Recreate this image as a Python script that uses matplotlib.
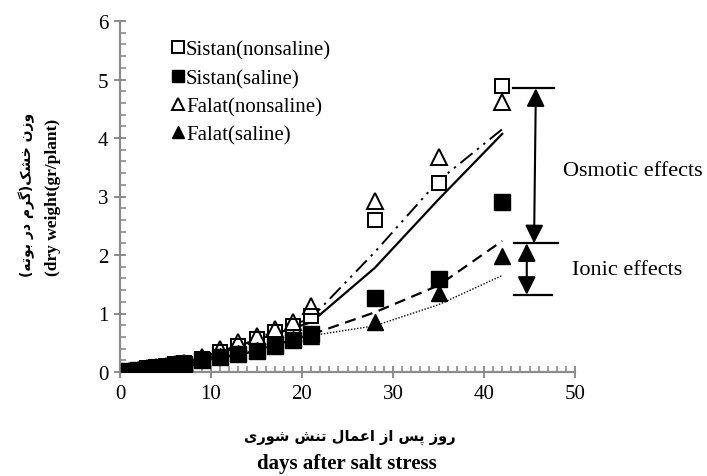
import numpy as np
import matplotlib
matplotlib.use('Agg')
import matplotlib.pyplot as plt
from matplotlib.ticker import MultipleLocator

# datos medidos
days = [1, 2, 3, 4, 5, 6, 7, 9, 11, 13, 15, 17, 19, 21, 28, 35, 42]
sistan_ns = [0.02, 0.04, 0.06, 0.08, 0.10, 0.13, 0.15, 0.22, 0.34, 0.45, 0.56, 0.69, 0.79, 0.96, 2.60, 3.23, 4.89]
sistan_s = [0.01, 0.03, 0.05, 0.07, 0.09, 0.11, 0.14, 0.21, 0.25, 0.31, 0.36, 0.45, 0.54, 0.65, 1.26, 1.59, 2.91]
falat_ns = [0.02, 0.04, 0.06, 0.09, 0.11, 0.13, 0.16, 0.25, 0.39, 0.51, 0.62, 0.73, 0.85, 1.13, 2.92, 3.67, 4.61]
falat_s = [0.01, 0.03, 0.05, 0.07, 0.09, 0.11, 0.13, 0.23, 0.28, 0.33, 0.38, 0.47, 0.56, 0.62, 0.85, 1.35, 1.98]

# curvas ajustadas
fit_days = [0, 7, 14, 21, 28, 35, 42]
fit_sistan_ns = [0.0, 0.15, 0.50, 0.85, 1.78, 2.95, 4.07]
fit_falat_ns = [0.0, 0.16, 0.52, 0.92, 2.05, 3.27, 4.15]
fit_sistan_s = [0.0, 0.14, 0.33, 0.64, 1.02, 1.48, 2.24]
fit_falat_s = [0.0, 0.13, 0.32, 0.62, 0.79, 1.15, 1.65]

# efectos (corchetes)
osm_top = 4.85
ion_top = 2.20
ion_bot = 1.32

# textos persas en formas de presentacion, orden visual
fa_x = ('\uFBFC\uFEAD\uFEEE\uFEB7' + ' ' + '\uFEB6\uFEE8\uFE97' + ' ' +
        '\uFEDD\uFE8E\uFEE4\uFECB\uFE8D' + ' ' + '\uFEAF\uFE8D' + ' ' +
        '\uFEB2\uFB58' + ' ' + '\uFEAF\uFEED\uFEAD')
fa_y = ('(' + '\uFEEA\uFE97\uFEEE\uFE91' + ' ' + '\uFEAD\uFEA9' + ' ' +
        '\uFEE1\uFEAE\uFB94' + ')' + '\uFB8F\uFEB8\uFEA7' + ' ' + '\uFEE5\uFEAF\uFEED')

plt.rcParams['font.family'] = ['Liberation Serif', 'DejaVu Sans']
gris = '#8c8c8c'

fig = plt.figure(figsize=(7.07, 4.77), dpi=100)
ax = fig.add_axes([120/707, 1-373/477, 455/707, 351/477])

ax.plot(fit_days, fit_sistan_ns, color='black', lw=1.6, ls='-', zorder=2)
ax.plot(fit_days, fit_falat_ns, color='black', lw=1.4, ls=(0, (8, 3, 1.2, 3, 1.2, 3)), zorder=2)
ax.plot(fit_days, fit_sistan_s, color='black', lw=1.6, ls=(0, (5, 3)), zorder=2)
ax.plot(fit_days, fit_falat_s, color='black', lw=1.0, ls=(0, (1, 1.2)), zorder=2)

ax.plot(days, sistan_ns, 's', ms=10, mfc='white', mec='black', mew=1.4, ls='none',
        label='Sistan(nonsaline)', zorder=3)
ax.plot(days, falat_ns, '^', ms=11, mfc='none', mec='black', mew=1.4, ls='none',
        label='Falat(nonsaline)', zorder=4)
ax.plot(days, falat_s, '^', ms=11, mfc='black', mec='black', ls='none',
        label='Falat(saline)', zorder=4)
ax.plot(days, sistan_s, 's', ms=11, mfc='black', mec='black', ls='none',
        label='Sistan(saline)', zorder=5)

# corchetes y flechas
ax.plot([43.2, 47.7], [osm_top, osm_top], color='black', lw=1.6, clip_on=False)
ax.plot([43.3, 48.1], [ion_top, ion_top], color='black', lw=1.6, clip_on=False)
ax.plot([43.3, 47.5], [ion_bot, ion_bot], color='black', lw=1.6, clip_on=False)
flecha = dict(arrowstyle='<|-|>,head_length=0.5,head_width=0.25', color='black', lw=1.5,
              mutation_scale=22, shrinkA=0, shrinkB=0)
ax.annotate('', xy=(45.7, osm_top), xytext=(45.5, ion_top), annotation_clip=False,
            arrowprops=flecha)
ax.annotate('', xy=(44.7, ion_top), xytext=(44.7, ion_bot), annotation_clip=False,
            arrowprops=flecha)
ax.text(56.4, 3.44, 'Osmotic effects', fontsize=16, ha='center', va='center')
ax.text(55.7, 1.76, 'Ionic effects', fontsize=16, ha='center', va='center')

ax.set_xlim(0, 50)
ax.set_ylim(0, 6)
ax.xaxis.set_major_locator(MultipleLocator(10))
ax.xaxis.set_minor_locator(MultipleLocator(1))
ax.yaxis.set_major_locator(MultipleLocator(1))
ax.yaxis.set_minor_locator(MultipleLocator(0.2))
for s in ['top', 'right']:
    ax.spines[s].set_visible(False)
for s in ['left', 'bottom']:
    ax.spines[s].set_color(gris)
    ax.spines[s].set_linewidth(1.6)
ax.tick_params(which='major', direction='inout', length=9, width=1.4, color=gris,
               labelsize=15, pad=4)
ax.tick_params(which='minor', direction='in', length=4, width=1.2, color=gris)

h, l = ax.get_legend_handles_labels()
orden = [0, 3, 1, 2]
ax.legend([h[i] for i in orden], [l[i] for i in orden], loc='upper left',
          bbox_to_anchor=(0.09, 0.975), frameon=False, fontsize=15,
          handlelength=0.6, handletextpad=0.1, labelspacing=0.42, borderpad=0,
          markerscale=0.8)

fig.text(350/707, 1-437/477, fa_x, fontsize=10.5, fontweight='bold',
         family='DejaVu Sans', ha='center', va='center')
fig.text(347/707, 1-464/477, 'days after salt stress', fontsize=15, fontweight='bold',
         ha='center', va='center')
fig.text(27/707, 1-195/477, fa_y, fontsize=10, fontweight='bold', rotation=90,
         family='DejaVu Sans', ha='center', va='center')
fig.text(53/707, 1-197/477, '(dry weight(gr/plant)', fontsize=12.5, fontweight='bold',
         rotation=90, ha='center', va='center')

plt.savefig('out.png', dpi=100)
